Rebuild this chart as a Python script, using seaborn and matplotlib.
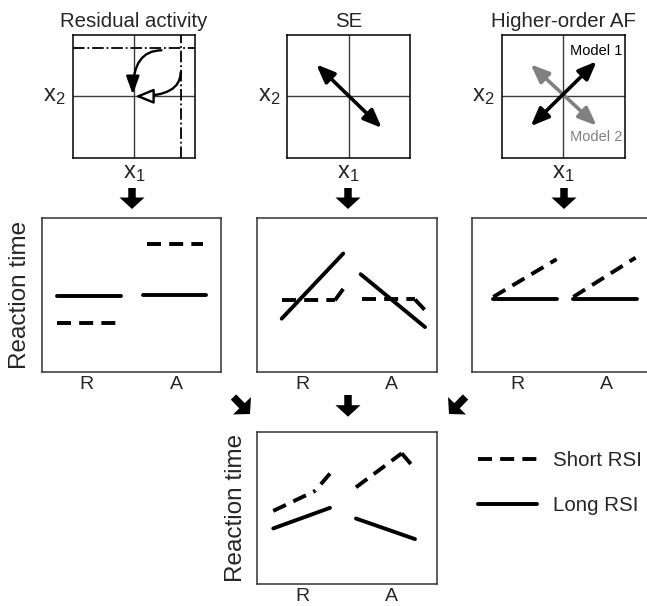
import matplotlib
matplotlib.use("Agg")
import matplotlib.pyplot as plt
from matplotlib.patches import FancyArrow
import pandas as pd
import seaborn as sns

sns.set_theme(style="white")
plt.rcParams["font.family"] = ["Liberation Sans", "DejaVu Sans"]

# ---------------------------------------------------------------------------
# Values
# ---------------------------------------------------------------------------
titles = ["Residual activity", "SE", "Higher-order AF"]
conditions = ["R", "A"]
cond_pos = [0.25, 0.75]
rsi_levels = ["Short RSI", "Long RSI"]

# Residual activity: flat RT within each condition
resid_seg = ["Rs", "Rs", "As", "As", "Rl", "Rl", "Al", "Al"]
resid_rsi = ["Short RSI"] * 4 + ["Long RSI"] * 4
resid_x = [0.087, 0.414, 0.585, 0.901, 0.087, 0.44, 0.563, 0.916]
resid_rt = [0.319, 0.319, 0.831, 0.831, 0.493, 0.493, 0.50, 0.50]

# SE (short-RSI curves bend at the end of each condition)
se_seg = ["Rs", "Rs", "Rs2", "Rs2", "As", "As", "As2", "As2", "Rl", "Rl", "Al", "Al"]
se_rsi = ["Short RSI"] * 8 + ["Long RSI"] * 4
se_x = [0.136, 0.433, 0.433, 0.49, 0.582, 0.879, 0.879, 0.935,
        0.136, 0.479, 0.576, 0.935]
se_rt = [0.465, 0.465, 0.465, 0.557, 0.47, 0.47, 0.47, 0.40,
         0.345, 0.770, 0.635, 0.29]

# Higher-order AF
af_seg = ["Rs", "Rs", "As", "As", "Rl", "Rl", "Al", "Al"]
af_rsi = ["Short RSI"] * 4 + ["Long RSI"] * 4
af_x = [0.117, 0.47, 0.563, 0.91, 0.117, 0.474, 0.563, 0.92]
af_rt = [0.487, 0.733, 0.487, 0.743, 0.47, 0.47, 0.47, 0.47]

# Combined prediction (the late R piece is traced from its upper end)
comb_seg = ["Rs", "Rs", "Rs2", "Rs2", "As", "As", "As2", "As2", "Rl", "Rl", "Al", "Al"]
comb_rsi = ["Short RSI"] * 8 + ["Long RSI"] * 4
comb_x = [0.089, 0.322, 0.405, 0.322, 0.55, 0.805, 0.805, 0.873,
          0.089, 0.405, 0.55, 0.879]
comb_rt = [0.48, 0.611, 0.725, 0.611, 0.635, 0.858, 0.858, 0.764,
           0.365, 0.50, 0.43, 0.295]

# State-space arrows (start, end) in (x1, x2)
resid_line_x2 = 0.79
resid_line_x1 = 0.765
resid_arrow_short = ((0.45, 0.75), (-0.02, 0.03))
resid_arrow_long = ((0.765, 0.39), (0.02, 0.0))
se_arrow = ((-0.527, 0.52), (0.54, -0.518))
model1_arrow = ((-0.53, -0.49), (0.54, 0.57))
model2_arrow = ((-0.53, 0.52), (0.54, -0.48))

# ---------------------------------------------------------------------------
W, H = 647, 606
fig = plt.figure(figsize=(W / 100, H / 100), dpi=100)


def box(x0, y0, x1, y1):
    """Axes rectangle from pixel edges (top-left origin)."""
    return [x0 / W, (H - y1) / H, (x1 - x0) / W, (y1 - y0) / H]


top_boxes = [box(73, 35, 195, 157.5), box(287.3, 35, 410, 157.5), box(501.7, 35, 625, 157.5)]
mid_boxes = [box(41.7, 218.3, 221, 371.5), box(257.3, 218.3, 436.7, 371.5), box(472.3, 218.3, 651.7, 371.5)]
bot_box = box(257.3, 431.7, 436.7, 584)


def state_space(rect, title):
    ax = fig.add_axes(rect)
    ax.set_xlim(-1, 1)
    ax.set_ylim(-1, 1)
    ax.axhline(0, color="#3a3a3a", lw=1.0)
    ax.axvline(0, color="#3a3a3a", lw=1.0)
    ax.set_xticks([])
    ax.set_yticks([])
    for s in ax.spines.values():
        s.set_color("black")
        s.set_linewidth(1.1)
    ax.set_title(title, fontsize=14.7, pad=5.5)
    ax.set_xlabel(r"$\mathregular{x_1}$", fontsize=17, labelpad=3.5)
    ax.set_ylabel(r"$\mathregular{x_2}$", fontsize=17, rotation=0,
                  ha="right", va="center")
    ax.yaxis.set_label_coords(-0.06, 0.5)
    return ax


def arrow(ax, start, end, style, color="black", lw=2.6, conn="arc3", fc=None):
    ax.annotate("", xy=end, xytext=start,
                arrowprops=dict(arrowstyle=style, color=color, lw=lw,
                                shrinkA=0, shrinkB=0, mutation_scale=10,
                                connectionstyle=conn,
                                fc=fc if fc is not None else color))


# Top row: state-space schematics
ax1 = state_space(top_boxes[0], titles[0])
ax1.axhline(resid_line_x2, color="black", lw=1.3, ls="-.")
ax1.axvline(resid_line_x1, color="black", lw=1.3, ls="-.")
arrow(ax1, *resid_arrow_short, "-|>,head_length=1.1,head_width=0.4", lw=1.7,
      conn="angle3,angleA=0,angleB=90")
arrow(ax1, *resid_arrow_long, "-|>,head_length=1.1,head_width=0.45", lw=1.7,
      conn="angle3,angleA=90,angleB=0", fc="white")

ax2 = state_space(top_boxes[1], titles[1])
arrow(ax2, *se_arrow, "<|-|>,head_length=1.1,head_width=0.45")

ax3 = state_space(top_boxes[2], titles[2])
arrow(ax3, *model2_arrow, "<|-|>,head_length=1.1,head_width=0.45", color="#808080")
arrow(ax3, *model1_arrow, "<|-|>,head_length=1.1,head_width=0.45")
ax3.text(0.96, 0.74, "Model 1", fontsize=10.5, ha="right", va="center", color="black")
ax3.text(0.96, -0.66, "Model 2", fontsize=10.5, ha="right", va="center", color="#808080")


# RT panels
def rt_frame(seg, rsi, x, rt):
    return pd.DataFrame({"seg": seg, "rsi": rsi, "x": x, "rt": rt})


DASHES = {"Short RSI": (3.6, 2.1), "Long RSI": ""}


def rt_panel(rect, df, ylabel=False, legend=False):
    ax = fig.add_axes(rect)
    sns.lineplot(data=df, x="x", y="rt", units="seg", style="rsi",
                 style_order=rsi_levels, dashes=DASHES, estimator=None,
                 sort=False, color="black", lw=2.8, ax=ax, legend=legend)
    ax.set_xlim(0, 1)
    ax.set_ylim(0, 1)
    ax.set_xticks(cond_pos, conditions)
    ax.set_yticks([])
    ax.tick_params(axis="x", length=0, pad=3.0, labelsize=14)
    ax.set_xlabel("")
    for s in ax.spines.values():
        s.set_color("#333333")
        s.set_linewidth(1.1)
    if ylabel:
        ax.set_ylabel("Reaction time", fontsize=17.5)
        ax.yaxis.set_label_coords(-0.06, 0.5)
    else:
        ax.set_ylabel("")
    return ax


rt_panel(mid_boxes[0], rt_frame(resid_seg, resid_rsi, resid_x, resid_rt), ylabel=True)
rt_panel(mid_boxes[1], rt_frame(se_seg, se_rsi, se_x, se_rt))
rt_panel(mid_boxes[2], rt_frame(af_seg, af_rsi, af_x, af_rt))
axb = rt_panel(bot_box, rt_frame(comb_seg, comb_rsi, comb_x, comb_rt), ylabel=True, legend=True)

sns.move_legend(axb, "upper left", bbox_to_anchor=(478 / W, (H - 451) / H),
                bbox_transform=fig.transFigure, frameon=False, title=None,
                fontsize=14.8, handlelength=2.85, handletextpad=0.8,
                labelspacing=1.25, borderpad=0, borderaxespad=0)
for ln in axb.get_legend().get_lines():
    ln.set_color("black")
    ln.set_linewidth(2.8)

# Block arrows linking the rows (pixel positions -> inches)
block_arrows = [
    ((132, 188), (132, 209)),
    ((348, 188), (348, 209)),
    ((564, 188), (564, 209)),
    ((233.5, 397), (250, 414)),
    ((348, 395), (348, 416.7)),
    ((465.5, 397), (449, 414)),
]
for (tx, ty), (hx, hy) in block_arrows:
    fig.add_artist(FancyArrow(tx / 100, (H - ty) / 100, (hx - tx) / 100, (ty - hy) / 100,
                              width=0.075, head_width=0.25, head_length=0.115,
                              length_includes_head=True, color="black", lw=0,
                              transform=fig.dpi_scale_trans))

fig.savefig("out.png", dpi=100)
